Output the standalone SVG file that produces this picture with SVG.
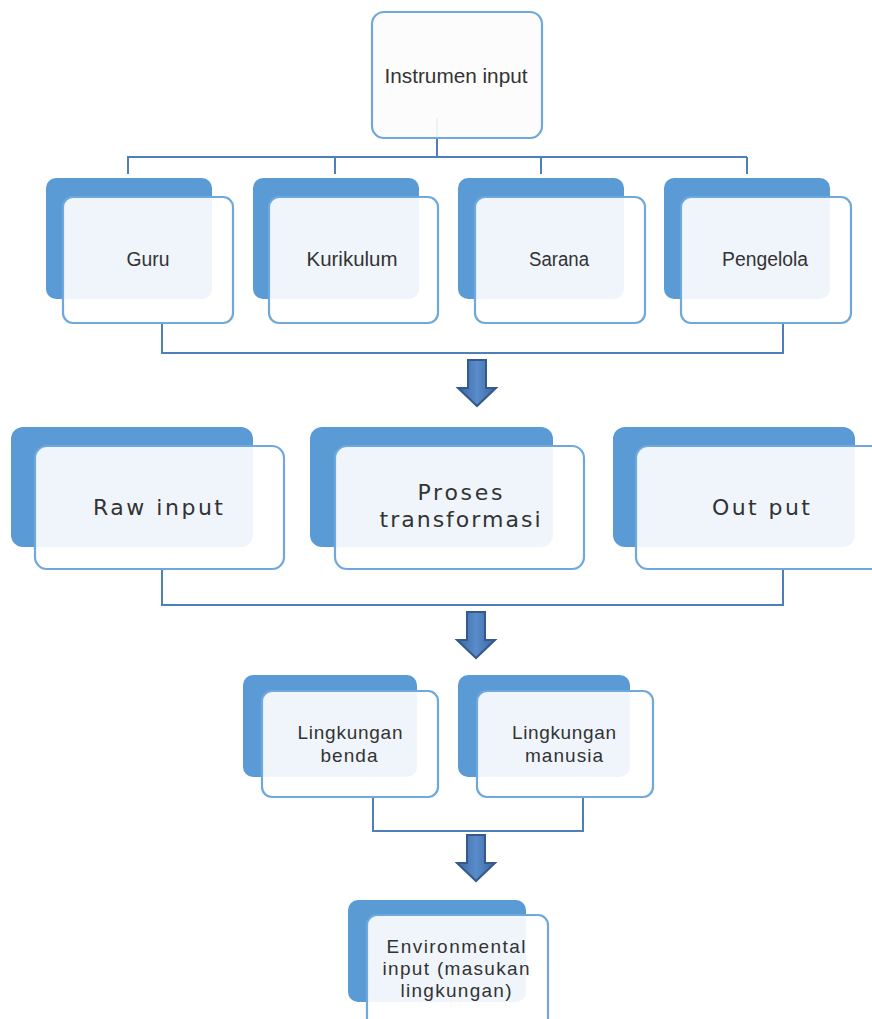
<svg xmlns="http://www.w3.org/2000/svg" width="872" height="1019" viewBox="0 0 872 1019">
<style>
.back{fill:#5b9bd5;}
.front{fill:#ffffff;fill-opacity:0.9;stroke:#6fa8dc;stroke-width:2.2;}
.top{fill:#fcfcfc;fill-opacity:0.92;stroke:#6fa8dc;stroke-width:2.2;}
.conn{fill:none;stroke:#4f7fba;stroke-width:2;}
.t{font-family:"Liberation Sans",Arial,sans-serif;fill:#333333;text-anchor:middle;}
.s1{font-size:20px;}
.s2{font-family:"DejaVu Sans","Liberation Sans",sans-serif;font-size:22px;}
.s3{font-size:19px;}
</style>
<defs>
<linearGradient id="ag" x1="0" y1="0" x2="1" y2="0">
<stop offset="0" stop-color="#3b659f"/>
<stop offset="0.5" stop-color="#5a8ccb"/>
<stop offset="1" stop-color="#3b659f"/>
</linearGradient>
<path id="arrow" d="M-9 0 H9 V28 H19 L0 46 L-19 28 H-9 Z" fill="url(#ag)" stroke="#345a8c" stroke-width="2" stroke-linejoin="miter"/>
</defs>
<rect width="872" height="1019" fill="#ffffff"/>

<g id="connectors">
<path class="conn" d="M437 118 V157 M127 157 H747 M128 157 V174 M335 157 V174 M541 157 V174 M747 157 V174"/>
<path class="conn" d="M162 323 V353 H783 V323"/>
<path class="conn" d="M162 569 V605 H783 V569"/>
<path class="conn" d="M373 797 V831 H583 V797"/>
<use href="#arrow" x="477" y="360"/>
<use href="#arrow" x="476" y="612"/>
<use href="#arrow" x="476" y="835"/>
</g>

<g id="node-instrumen">
<rect class="top" x="372" y="12" width="170" height="126" rx="12"/>
<text class="t s1" x="456" y="83" textLength="143" lengthAdjust="spacingAndGlyphs">Instrumen input</text>
</g>

<g id="node-guru">
<rect class="back" x="46" y="178" width="166" height="121" rx="10"/>
<rect class="front" x="63" y="197" width="170" height="126" rx="10"/>
<text class="t s1" x="148" y="266" textLength="43" lengthAdjust="spacingAndGlyphs">Guru</text>
</g>
<g id="node-kurikulum">
<rect class="back" x="253" y="178" width="166" height="121" rx="10"/>
<rect class="front" x="269" y="197" width="169" height="126" rx="10"/>
<text class="t s1" x="352" y="266" textLength="91" lengthAdjust="spacingAndGlyphs">Kurikulum</text>
</g>
<g id="node-sarana">
<rect class="back" x="458" y="178" width="166" height="121" rx="10"/>
<rect class="front" x="475" y="197" width="170" height="126" rx="10"/>
<text class="t s1" x="559" y="266" textLength="60" lengthAdjust="spacingAndGlyphs">Sarana</text>
</g>
<g id="node-pengelola">
<rect class="back" x="664" y="178" width="166" height="121" rx="10"/>
<rect class="front" x="681" y="197" width="170" height="126" rx="10"/>
<text class="t s1" x="765" y="266" textLength="86" lengthAdjust="spacingAndGlyphs">Pengelola</text>
</g>

<g id="node-raw">
<rect class="back" x="11" y="427" width="242" height="120" rx="12"/>
<rect class="front" x="35" y="446" width="249" height="123" rx="12"/>
<text class="t s2" x="158" y="515" textLength="130" lengthAdjust="spacing">Raw input</text>
</g>
<g id="node-proses">
<rect class="back" x="310" y="427" width="243" height="120" rx="12"/>
<rect class="front" x="335" y="446" width="249" height="123" rx="12"/>
<text class="t s2" x="460" y="500" textLength="85" lengthAdjust="spacing">Proses</text>
<text class="t s2" x="460" y="527" textLength="161" lengthAdjust="spacing">transformasi</text>
</g>
<g id="node-output">
<rect class="back" x="613" y="427" width="242" height="120" rx="12"/>
<rect class="front" x="636" y="446" width="250" height="123" rx="12"/>
<text class="t s2" x="761" y="515" textLength="98" lengthAdjust="spacing">Out put</text>
</g>

<g id="node-benda">
<rect class="back" x="243" y="675" width="174" height="102" rx="10"/>
<rect class="front" x="262" y="691" width="176" height="106" rx="10"/>
<text class="t s3" x="350" y="739" textLength="105" lengthAdjust="spacing">Lingkungan</text>
<text class="t s3" x="349" y="762" textLength="57" lengthAdjust="spacing">benda</text>
</g>
<g id="node-manusia">
<rect class="back" x="458" y="675" width="172" height="102" rx="10"/>
<rect class="front" x="477" y="691" width="176" height="106" rx="10"/>
<text class="t s3" x="564" y="739" textLength="104" lengthAdjust="spacing">Lingkungan</text>
<text class="t s3" x="564" y="762" textLength="78" lengthAdjust="spacing">manusia</text>
</g>

<g id="node-environmental">
<rect class="back" x="348" y="900" width="178" height="102" rx="10"/>
<rect class="front" x="367" y="915" width="181" height="125" rx="10"/>
<text class="t s3" x="456" y="953" textLength="139" lengthAdjust="spacing">Environmental</text>
<text class="t s3" x="456" y="975" textLength="147" lengthAdjust="spacing">input (masukan</text>
<text class="t s3" x="456" y="997" textLength="111" lengthAdjust="spacing">lingkungan)</text>
</g>
</svg>
